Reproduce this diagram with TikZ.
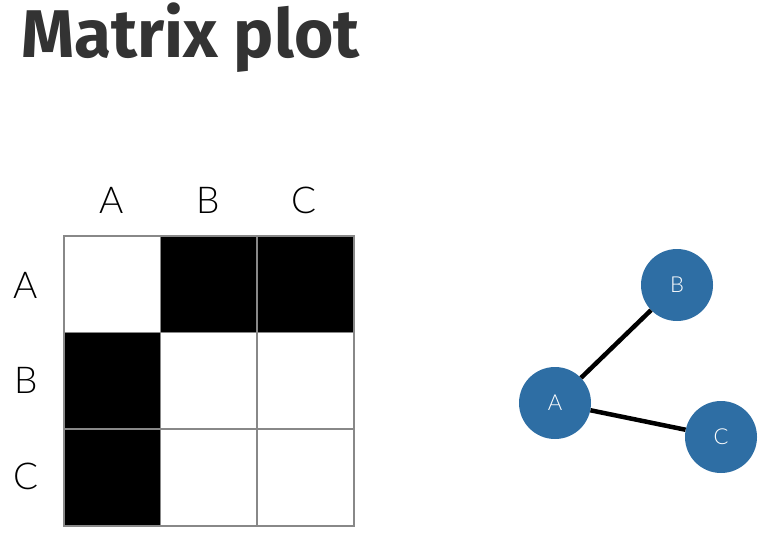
\documentclass[tikz,border=0pt]{standalone}
\usepackage{fontspec}
\setmainfont{Liberation Sans}
\newfontfamily\titlefont{Fira Sans}
\newfontfamily\lightfont{Lato Light}
\definecolor{nodeblue}{RGB}{46,110,164}
\definecolor{titlegray}{RGB}{51,51,51}
\definecolor{gridgray}{RGB}{136,136,136}
\begin{document}
\begin{tikzpicture}[x=1pt,y=-1pt,
  cell/.style={draw=gridgray,line width=1.5pt,minimum size=96.7pt,inner sep=0pt,anchor=north west},
  blackcell/.style={cell,fill=black},
  whitecell/.style={cell,fill=white},
  lab/.style={font=\lightfont\fontsize{37}{37}\selectfont,text=black},
  gnode/.style={circle,fill=nodeblue,minimum size=72pt,inner sep=0pt,text=white,font=\lightfont\fontsize{22}{22}\selectfont},
  edge/.style={line width=4.5pt,black}]
\useasboundingbox (0,0) rectangle (767,535);
\node[anchor=base west,text=titlegray,font=\titlefont\bfseries\fontsize{67.5}{67.5}\selectfont,inner sep=0pt] (title) at (21,57) {Matrix plot};
% matrix cells
\node[whitecell] (c11) at (63,235) {};
\node[blackcell] (c12) at (159.7,235) {};
\node[blackcell] (c13) at (256.3,235) {};
\node[blackcell] (c21) at (63,331.7) {};
\node[whitecell] (c22) at (159.7,331.7) {};
\node[whitecell] (c23) at (256.3,331.7) {};
\node[blackcell] (c31) at (63,428.3) {};
\node[whitecell] (c32) at (159.7,428.3) {};
\node[whitecell] (c33) at (256.3,428.3) {};
% labels
\node[lab] (colA) at (112,200) {A};
\node[lab] (colB) at (208,200) {B};
\node[lab] (colC) at (304,200) {C};
\node[lab] (rowA) at (26,285) {A};
\node[lab] (rowB) at (26,380) {B};
\node[lab] (rowC) at (26,476) {C};
% graph
\node[gnode] (A) at (555,403) {A};
\node[gnode] (B) at (677,285) {B};
\node[gnode] (C) at (721,437) {C};
\draw[edge] (A) -- (B);
\draw[edge] (A) -- (C);
\end{tikzpicture}
\end{document}
